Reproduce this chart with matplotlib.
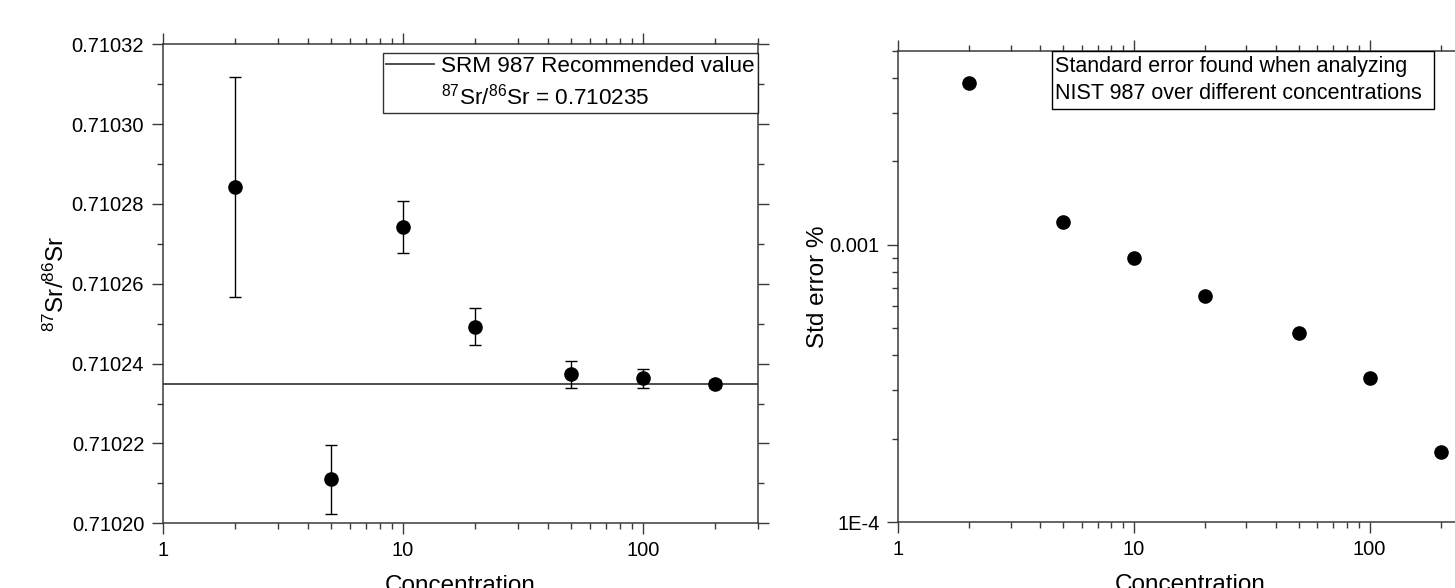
import matplotlib
matplotlib.use("Agg")
import matplotlib.pyplot as plt
from matplotlib.lines import Line2D
from matplotlib.patches import Rectangle
from matplotlib.ticker import FixedLocator, FormatStrFormatter, LogLocator, NullFormatter, MultipleLocator

plt.rcParams["font.family"] = ["Liberation Sans", "DejaVu Sans"]
plt.rcParams["mathtext.fontset"] = "custom"
plt.rcParams["mathtext.rm"] = "Liberation Sans"
plt.rcParams["mathtext.it"] = "Liberation Sans:italic"

# data
concentration = [2, 5, 10, 20, 50, 100, 200]
ratio = [0.7102843, 0.7102110, 0.7102742, 0.7102493, 0.7102373, 0.7102363, 0.7102348]
ratio_err = [0.0000275, 0.0000087, 0.0000066, 0.0000046, 0.0000034, 0.0000023, 0.0000010]
std_error = [0.003846, 0.001208, 0.000896, 0.000656, 0.000480, 0.000332, 0.0001797]
recommended = 0.710235

SPINE = "#3a3a3a"
FS_TICK = 14.5
FS_LABEL = 17.5

fig = plt.figure(figsize=(14.55, 5.88), dpi=100)
ax1 = fig.add_axes([163 / 1455, 1 - 523.3 / 588, (757.7 - 163) / 1455, (523.3 - 44.3) / 588])
ax2 = fig.add_axes([898.4 / 1455, 1 - 522.3 / 588, (1482 - 898.4) / 1455, (522.3 - 51) / 588])

for ax in (ax1, ax2):
    ax.set_xscale("log")
    ax.set_xlim(1, 300)
    for sp in ax.spines.values():
        sp.set_color(SPINE)
        sp.set_linewidth(1.1)
    ax.tick_params(which="both", direction="out", top=True, right=True,
                   labeltop=False, labelright=False, colors=SPINE,
                   labelcolor="black", labelsize=FS_TICK)
    ax.tick_params(which="major", length=8, width=1.0)
    ax.tick_params(which="minor", length=4, width=1.0)
    ax.tick_params(axis="x", pad=4.5)
    ax.tick_params(axis="y", pad=5.5)
    ax.xaxis.set_major_locator(FixedLocator([1, 10, 100]))
    ax.xaxis.set_major_formatter(FormatStrFormatter("%g"))
    ax.xaxis.set_minor_locator(LogLocator(base=10, subs=range(2, 10), numticks=20))
    ax.xaxis.set_minor_formatter(NullFormatter())
    ax.set_xlabel("Concentration", fontsize=FS_LABEL, labelpad=11)

# left panel
ax1.axhline(recommended, color="#404040", linewidth=1.3)
ax1.errorbar(concentration, ratio, yerr=ratio_err, fmt="o", color="black",
             markersize=9.5, ecolor="black", elinewidth=1.0, capsize=4, capthick=1.0)
ax1.set_ylim(0.71020, 0.71032)
ax1.yaxis.set_major_locator(MultipleLocator(0.00002))
ax1.yaxis.set_minor_locator(MultipleLocator(0.00001))
ax1.yaxis.set_major_formatter(FormatStrFormatter("%.5f"))
ax1.set_ylabel(r"$^{87}$Sr/$^{86}$Sr", fontsize=FS_LABEL)
ax1.yaxis.set_label_coords(-0.158, 0.5)

handles = [Line2D([], [], color="#404040", linewidth=1.3), Line2D([], [], color="none")]
labels = ["SRM 987 Recommended value", r"$^{87}$Sr/$^{86}$Sr = 0.710235"]
leg = ax1.legend(handles, labels, loc="upper right", bbox_to_anchor=(1.0, 1 - 8.5 / 479),
                 borderaxespad=0, fontsize=16.2, frameon=True, fancybox=False,
                 handlelength=2.13, handletextpad=0.29, borderpad=0.15, labelspacing=0.275)
leg.get_frame().set_edgecolor("black")
leg.get_frame().set_linewidth(1.0)

# right panel
ax2.plot(concentration, std_error, "o", color="black", markersize=9.5)
ax2.set_yscale("log")
ax2.set_ylim(1e-4, 0.005)
ax2.set_yticks([1e-4, 1e-3], ["1E-4", "0.001"])
ax2.yaxis.set_minor_locator(LogLocator(base=10, subs=range(2, 10), numticks=20))
ax2.yaxis.set_minor_formatter(NullFormatter())
ax2.set_ylabel("Std error %", fontsize=FS_LABEL)
ax2.yaxis.set_label_coords(-0.119, 0.5)

ax2.add_patch(Rectangle((0.2632, 0.877), 0.6546, 0.123, transform=ax2.transAxes,
                        facecolor="white", edgecolor="black", linewidth=1.0, zorder=3))
ax2.text(0.2688, 0.9385, "Standard error found when analyzing\nNIST 987 over different concentrations",
         transform=ax2.transAxes, ha="left", va="center", fontsize=15.5, linespacing=1.35, zorder=4)

fig.savefig("out.png", dpi=100)
